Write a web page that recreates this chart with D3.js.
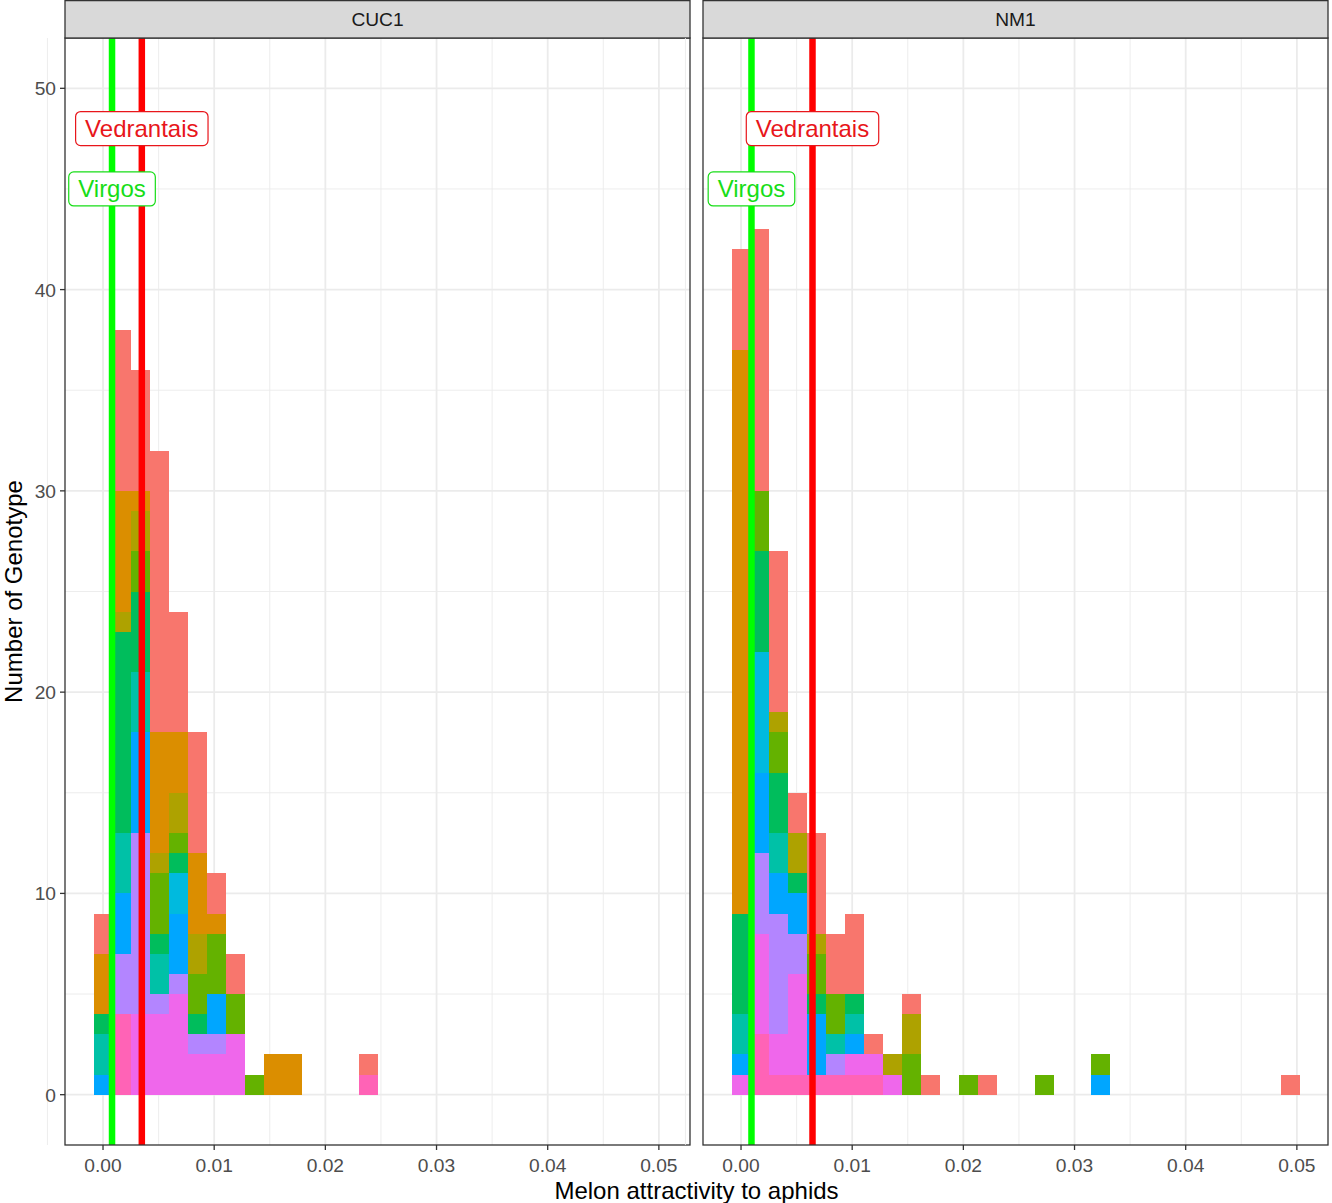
<!DOCTYPE html>
<html><head><meta charset="utf-8">
<script src="https://cdn.jsdelivr.net/npm/d3@7"></script>
<style>
body{margin:0;background:#fff}
svg{display:block}
text{font-family:"Liberation Sans", Arial, sans-serif}
</style>
</head><body>
<svg id="chart" width="1332" height="1203"></svg>
<script>
// ---------------- data ----------------
const facetNames = ["CUC1", "NM1"];
const groupNames = ["G01","G02","G03","G04","G05","G06","G07","G08","G09","G10","G11"];
const groupColors = ["#F8766D","#DB8E00","#AEA200","#64B200","#00BD5C","#00C1A7","#00BADE","#00A6FF","#B385FF","#EF67EB","#FF63B6"];
const binWidth = 0.0017037;   // histogram bin width (bins centred on k * binWidth)
const binCount = 30;

// rows: [bin index, group number (1-11), count]
const cuc1Rows = [
  [0,8,1],[0,6,2],[0,5,1],[0,2,3],[0,1,2],
  [1,11,4],[1,9,3],[1,8,3],[1,6,3],[1,5,10],[1,3,1],[1,2,6],[1,1,8],
  [2,10,4],[2,9,9],[2,8,5],[2,6,3],[2,5,4],[2,4,2],[2,3,2],[2,2,1],[2,1,6],
  [3,10,4],[3,9,1],[3,6,2],[3,5,1],[3,4,3],[3,3,1],[3,2,6],[3,1,14],
  [4,10,5],[4,9,1],[4,8,3],[4,7,2],[4,5,1],[4,4,1],[4,3,2],[4,2,3],[4,1,6],
  [5,10,2],[5,9,1],[5,5,1],[5,4,2],[5,3,2],[5,2,4],[5,1,6],
  [6,10,2],[6,9,1],[6,8,2],[6,4,3],[6,2,1],[6,1,2],
  [7,10,3],[7,4,2],[7,1,2],
  [8,4,1],
  [9,2,2],
  [10,2,2],
  [14,11,1],[14,1,1]
];
const nm1Rows = [
  [0,10,1],[0,8,1],[0,6,2],[0,5,5],[0,2,28],[0,1,5],
  [1,11,3],[1,10,5],[1,9,4],[1,8,4],[1,7,6],[1,5,5],[1,4,3],[1,1,13],
  [2,11,1],[2,10,2],[2,9,6],[2,8,2],[2,6,2],[2,5,3],[2,4,2],[2,3,1],[2,1,8],
  [3,11,1],[3,10,5],[3,9,2],[3,8,2],[3,5,1],[3,3,2],[3,1,2],
  [4,11,1],[4,8,3],[4,5,1],[4,4,2],[4,3,1],[4,1,5],
  [5,11,1],[5,9,1],[5,6,1],[5,4,2],[5,1,3],
  [6,11,1],[6,10,1],[6,8,1],[6,6,1],[6,5,1],[6,1,4],
  [7,11,1],[7,10,1],[7,1,1],
  [8,10,1],[8,3,1],
  [9,4,2],[9,3,2],[9,1,1],
  [10,1,1],
  [12,4,1],
  [13,1,1],
  [16,4,1],
  [19,8,1],[19,4,1],
  [29,1,1]
];

const refNames = ["Vedrantais", "Virgos"];
const refLineColors = ["#FF0000", "#00FF00"];
const refTextColors = ["#E8161B", "#17DD17"];
const cuc1RefX = [0.00349, 0.00081];
const nm1RefX = [0.00643, 0.00094];
const refLabelY = [48, 45];

const xTicks = [0, 0.01, 0.02, 0.03, 0.04, 0.05];
const xTickLabels = ["0.00","0.01","0.02","0.03","0.04","0.05"];
const xMinor = [-0.005, 0.005, 0.015, 0.025, 0.035, 0.045];
const yTicks = [0, 10, 20, 30, 40, 50];
const yMinor = [5, 15, 25, 35, 45];

const xTitle = "Melon attractivity to aphids";
const yTitle = "Number of Genotype";

// ---------------- layout ----------------
const svg = d3.select("#chart");
const panelTop = 38, panelBottom = 1145, panelW = 625;
const panelLefts = [65, 703];
const stripTop = 0;

const x = d3.scaleLinear().domain([-0.00342, 0.0528]).range([0, panelW]);
const y = d3.scaleLinear().domain([-2.5, 52.5]).range([panelBottom, panelTop]);

const facetRows = [cuc1Rows, nm1Rows];
const facetRef = [cuc1RefX, nm1RefX];

function wideTable(rows) {
  const table = d3.range(binCount).map(k => {
    const o = {bin: k};
    groupNames.forEach(g => o[g] = 0);
    return o;
  });
  rows.forEach(([b, g, c]) => { table[b][groupNames[g - 1]] += c; });
  return table;
}

const stackKeys = groupNames.slice().reverse(); // last group at the bottom
const stacker = d3.stack().keys(stackKeys);

facetNames.forEach((name, fi) => {
  const left = panelLefts[fi];
  const g = svg.append("g").attr("transform", `translate(${left},0)`);

  // panel background
  g.append("rect").attr("x", 0).attr("y", panelTop).attr("width", panelW)
    .attr("height", panelBottom - panelTop).attr("fill", "#fff");

  // grid
  const grid = g.append("g");
  xMinor.forEach(v => grid.append("line").attr("x1", x(v)).attr("x2", x(v))
    .attr("y1", panelTop).attr("y2", panelBottom).attr("stroke", "#EBEBEB").attr("stroke-width", 0.9));
  yMinor.forEach(v => grid.append("line").attr("x1", 0).attr("x2", panelW)
    .attr("y1", y(v)).attr("y2", y(v)).attr("stroke", "#EBEBEB").attr("stroke-width", 0.9));
  xTicks.forEach(v => grid.append("line").attr("x1", x(v)).attr("x2", x(v))
    .attr("y1", panelTop).attr("y2", panelBottom).attr("stroke", "#EBEBEB").attr("stroke-width", 1.8));
  yTicks.forEach(v => grid.append("line").attr("x1", 0).attr("x2", panelW)
    .attr("y1", y(v)).attr("y2", y(v)).attr("stroke", "#EBEBEB").attr("stroke-width", 1.8));

  // bars
  const series = stacker(wideTable(facetRows[fi]));
  const bars = g.append("g").attr("shape-rendering", "crispEdges");
  series.forEach(s => {
    const gi = groupNames.indexOf(s.key);
    bars.selectAll(null)
      .data(s.filter(d => d[1] > d[0]))
      .join("rect")
      .attr("x", d => x((d.data.bin - 0.5) * binWidth))
      .attr("width", d => x((d.data.bin + 0.5) * binWidth) - x((d.data.bin - 0.5) * binWidth))
      .attr("y", d => y(d[1]))
      .attr("height", d => y(d[0]) - y(d[1]))
      .attr("fill", groupColors[gi]);
  });

  // reference lines
  facetRef[fi].forEach((v, ri) => {
    g.append("line").attr("x1", x(v)).attr("x2", x(v))
      .attr("y1", panelTop).attr("y2", panelBottom)
      .attr("stroke", refLineColors[ri]).attr("stroke-width", 6.5);
  });

  // labels
  facetRef[fi].forEach((v, ri) => {
    const lg = g.append("g");
    const box = lg.append("rect");
    const t = lg.append("text").attr("x", x(v)).attr("y", y(refLabelY[ri]) + 8.5)
      .attr("text-anchor", "middle").attr("font-size", 24)
      .attr("fill", refTextColors[ri]).text(refNames[ri]);
    const w = t.node().getComputedTextLength();
    box.attr("x", x(v) - w / 2 - 9.5).attr("y", y(refLabelY[ri]) - 17)
      .attr("width", w + 19).attr("height", 34).attr("rx", 5).attr("ry", 5)
      .attr("fill", "#fff").attr("stroke", refTextColors[ri]).attr("stroke-width", 1.2);
  });

  // panel border
  g.append("rect").attr("x", 0).attr("y", panelTop).attr("width", panelW)
    .attr("height", panelBottom - panelTop).attr("fill", "none")
    .attr("stroke", "#333333").attr("stroke-width", 1.3);

  // strip
  g.append("rect").attr("x", 0).attr("y", stripTop + 0.6).attr("width", panelW)
    .attr("height", panelTop - stripTop - 0.6).attr("fill", "#D9D9D9")
    .attr("stroke", "#333333").attr("stroke-width", 1.3);
  g.append("text").attr("x", panelW / 2).attr("y", 26).attr("text-anchor", "middle")
    .attr("font-size", 19.2).attr("fill", "#1A1A1A").text(name);

  // x axis
  const xa = g.append("g");
  xTicks.forEach((v, i) => {
    xa.append("line").attr("x1", x(v)).attr("x2", x(v)).attr("y1", panelBottom)
      .attr("y2", panelBottom + 5).attr("stroke", "#333333").attr("stroke-width", 1.3);
    xa.append("text").attr("x", x(v)).attr("y", panelBottom + 27).attr("text-anchor", "middle")
      .attr("font-size", 19.2).attr("fill", "#4D4D4D").text(xTickLabels[i]);
  });

  // y axis (left panel only)
  if (fi === 0) {
    yTicks.forEach(v => {
      g.append("line").attr("x1", -5).attr("x2", 0).attr("y1", y(v)).attr("y2", y(v))
        .attr("stroke", "#333333").attr("stroke-width", 1.3);
      g.append("text").attr("x", -9).attr("y", y(v) + 7).attr("text-anchor", "end")
        .attr("font-size", 19.2).attr("fill", "#4D4D4D").text(v);
    });
  }
});

// axis titles
svg.append("text").attr("x", (panelLefts[0] + panelLefts[1] + panelW) / 2).attr("y", 1199)
  .attr("text-anchor", "middle").attr("font-size", 24).attr("fill", "#000").text(xTitle);
svg.append("text").attr("transform", `translate(22,${(panelTop + panelBottom) / 2}) rotate(-90)`)
  .attr("text-anchor", "middle").attr("font-size", 24).attr("fill", "#000").text(yTitle);
</script>
</body></html>
